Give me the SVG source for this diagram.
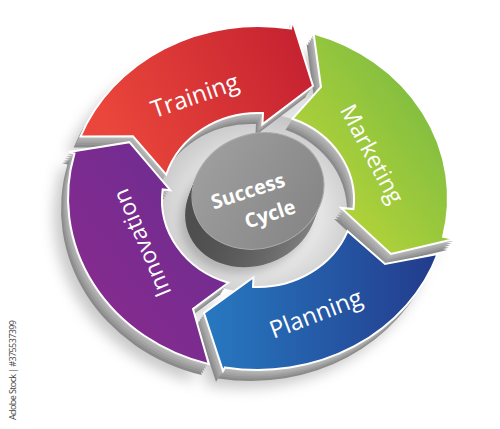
<svg xmlns="http://www.w3.org/2000/svg" xmlns:xlink="http://www.w3.org/1999/xlink" width="500" height="429" viewBox="0 0 500 429">
<style>
.face{stroke:#fff;stroke-width:2;stroke-linejoin:miter}
.lbl{font-family:"Open Sans","Liberation Sans",sans-serif;font-weight:400;fill:#fff;text-anchor:middle}
.ctr{font-family:"Open Sans","Liberation Sans",sans-serif;font-weight:700;fill:#fff;text-anchor:middle;font-size:20px}
.stock{font-family:"Open Sans","Liberation Sans",sans-serif;font-size:9px;fill:#444;text-anchor:middle}
</style>
<defs>
<linearGradient id="gRed" x1="0" y1="0.3" x2="1" y2="0"><stop offset="0" stop-color="#ea463b"/><stop offset="1" stop-color="#c21f30"/></linearGradient>
<linearGradient id="gGreen" x1="0" y1="1" x2="1" y2="0"><stop offset="0" stop-color="#c8dc36"/><stop offset="1" stop-color="#6bb443"/></linearGradient>
<linearGradient id="gBlue" x1="0" y1="0" x2="1" y2="0"><stop offset="0" stop-color="#2779c1"/><stop offset="1" stop-color="#233b8c"/></linearGradient>
<linearGradient id="gPurple" x1="0" y1="1" x2="1" y2="0"><stop offset="0" stop-color="#8e2a8d"/><stop offset="1" stop-color="#672d92"/></linearGradient>
<linearGradient id="gDisk" x1="0" y1="0" x2="1" y2="1"><stop offset="0" stop-color="#a2a2a2"/><stop offset="1" stop-color="#828282"/></linearGradient>
<linearGradient id="gSide" x1="0" y1="0" x2="1" y2="0"><stop offset="0" stop-color="#4e4e4e"/><stop offset="1" stop-color="#8a8a8a"/></linearGradient>
<radialGradient id="gHole" cx="0.5" cy="0.55" r="0.55"><stop offset="0.5" stop-color="#ececec"/><stop offset="1" stop-color="#c4c4c4"/></radialGradient>
<filter id="blur" x="-20%" y="-20%" width="140%" height="140%"><feGaussianBlur stdDeviation="7"/></filter>
<filter id="blur2" x="-30%" y="-30%" width="160%" height="160%"><feGaussianBlur stdDeviation="5"/></filter>
<path id="p-red" d="M80.6,136.4 A190,172 0 0 1 291,28.6 L292.5,21 L313,86 L262.4,124.4 L263,113.1 A96,87 0 0 0 166.2,174.6 L132.9,136.2 Z"/>
<path id="p-green" d="M313.6,33.5 A190,172 0 0 1 443.1,236.7 L454.3,239 L391,254 L341.1,207.9 L353.5,209.1 A96,87 0 0 0 292.4,118.8 L321,87 Z"/>
<path id="p-blue" d="M437.6,254 A190,172 0 0 1 225,367.4 L223,371 L204,313 L253.5,277.3 L253,286.9 A96,87 0 0 0 347.6,231.2 L385,264 Z"/>
<path id="p-purple" d="M208.8,364.1 A190,172 0 0 1 74.5,153.5 L69,152.1 L129.5,142.2 L170.3,190.2 L162.7,189.4 A96,87 0 0 0 228.3,282.7 L193,309 Z"/>
<g id="ring"><use href="#p-red"/><use href="#p-green"/><use href="#p-blue"/><use href="#p-purple"/></g>
<ellipse id="disk" cx="258" cy="191" rx="67" ry="57" transform="rotate(-20 258 191)"/>
</defs>

<rect width="500" height="429" fill="#fff"/>

<g id="shadow" opacity="0.4" filter="url(#blur)">
<use href="#ring" transform="translate(-14,18)" fill="#777"/>
</g>

<ellipse id="hole" cx="256" cy="203" rx="100" ry="90" fill="url(#gHole)"/>

<g id="base">
<use href="#ring" transform="translate(-7,11)" fill="#8a8a8a"/>
<use href="#ring" transform="translate(-5.6,8.8)" fill="#979797"/>
<use href="#ring" transform="translate(-4.2,6.6)" fill="#a3a3a3"/>
<use href="#ring" transform="translate(-2.8,4.4)" fill="#aeaeae"/>
<use href="#ring" transform="translate(-1.4,2.2)" fill="#b9b9b9"/>
</g>

<g id="connectors"></g>

<g id="training">
<use href="#p-red" class="face" fill="url(#gRed)"/>
<text class="lbl" font-size="24" transform="translate(195,96) rotate(-19)" y="8">Training</text>
</g>
<g id="marketing">
<use href="#p-green" class="face" fill="url(#gGreen)"/>
<text class="lbl" font-size="23" transform="translate(372,154) rotate(62)" y="8">Marketing</text>
</g>
<g id="planning">
<use href="#p-blue" class="face" fill="url(#gBlue)"/>
<text class="lbl" font-size="24" transform="translate(316,314) rotate(-21)" y="8">Planning</text>
</g>
<g id="innovation">
<use href="#p-purple" class="face" fill="url(#gPurple)"/>
<text class="lbl" font-size="23" transform="translate(142,243) rotate(-113)" y="8">Innovation</text>
</g>

<g id="success-cycle">
<use href="#disk" transform="translate(-12,24)" fill="#555" opacity="0.35" filter="url(#blur2)"/>
<use href="#disk" transform="translate(-7,18)" fill="url(#gSide)"/>
<use href="#disk" transform="translate(-5.8,15)" fill="url(#gSide)"/>
<use href="#disk" transform="translate(-4.7,12)" fill="url(#gSide)"/>
<use href="#disk" transform="translate(-3.5,9)" fill="url(#gSide)"/>
<use href="#disk" transform="translate(-2.3,6)" fill="url(#gSide)"/>
<use href="#disk" transform="translate(-1.2,3)" fill="url(#gSide)"/>
<use href="#disk" fill="url(#gDisk)" stroke="#aaa" stroke-width="1"/>
<text class="ctr" transform="translate(248,191) rotate(-18)" y="7">Success</text>
<text class="ctr" transform="translate(270,214) rotate(-18)" y="7">Cycle</text>
</g>

<text class="stock" transform="translate(13,370) rotate(-90)" y="3" textLength="100">Adobe Stock | #375537399</text>
</svg>
